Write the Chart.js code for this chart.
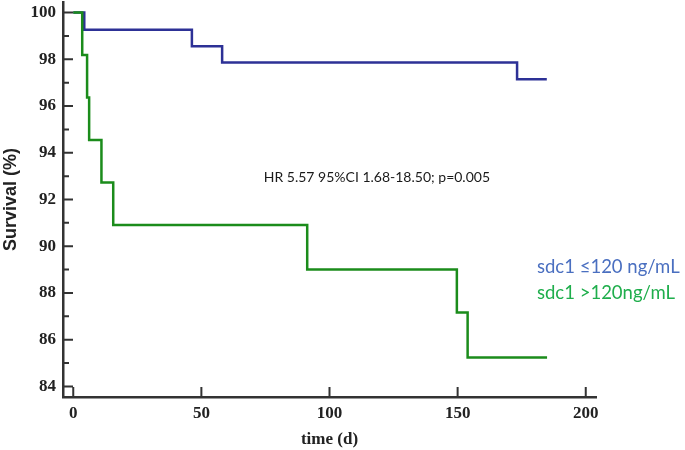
<!DOCTYPE html>
<html>
<head>
<meta charset="utf-8">
<script src="https://cdn.jsdelivr.net/npm/chart.js@4"></script>
<style>
html,body{margin:0;padding:0;background:#fff;}
#wrap{width:685px;height:450px;position:relative;}
</style>
</head>
<body>
<div id="wrap"><canvas id="c" width="685" height="450"></canvas></div>
<script>
// ---- data ----
const lowTimes    = [0, 4.3, 46.3, 58.1, 173.2, 184.8];
const lowSurv     = [100, 99.26, 98.56, 97.86, 97.14, 97.14];
const highTimes   = [0, 3.5, 5.4, 6.2, 11.0, 15.6, 91.3, 149.7, 153.9, 184.9];
const highSurv    = [100, 98.18, 96.36, 94.55, 92.73, 90.91, 89.0, 87.17, 85.24, 85.24];
const xTickLabels = [0, 50, 100, 150, 200];
const yTickLabels = [84, 86, 88, 90, 92, 94, 96, 98, 100];
const yMinorTicks = [85, 87, 89, 91, 93, 95, 97, 99];
const seriesNames = ['sdc1 \u2264120 ng/mL', 'sdc1 >120ng/mL'];
const annotationText = 'HR 5.57 95%CI 1.68-18.50; p=0.005';

const BLUE = '#2d3196';
const GREEN = '#1b8c1b';
const AXIS = '#333333';

const toPts = (t, s) => t.map((x, i) => ({x: x, y: s[i]}));

const inwardTicks = {
  id: 'inwardTicks',
  afterDatasetsDraw(chart) {
    const ctx = chart.ctx;
    const xs = chart.scales.x, ys = chart.scales.y;
    const L = chart.chartArea.left, B = chart.chartArea.bottom;
    ctx.save();
    ctx.strokeStyle = AXIS;
    ctx.lineWidth = 2;
    ctx.beginPath();
    yTickLabels.forEach(v => { const p = ys.getPixelForValue(v); ctx.moveTo(L, p); ctx.lineTo(L + 10, p); });
    yMinorTicks.forEach(v => { const p = ys.getPixelForValue(v); ctx.moveTo(L, p); ctx.lineTo(L + 6, p); });
    xTickLabels.forEach(v => { const p = xs.getPixelForValue(v); ctx.moveTo(p, B); ctx.lineTo(p, B - 10); });
    ctx.stroke();
    ctx.restore();
  }
};

const texts = {
  id: 'texts',
  afterDraw(chart) {
    const ctx = chart.ctx;
    const xs = chart.scales.x, ys = chart.scales.y;
    ctx.save();
    ctx.textBaseline = 'middle';
    ctx.fillStyle = '#1a1a1a';
    ctx.font = '14px Lato, "Open Sans", sans-serif';
    ctx.textAlign = 'center';
    ctx.fillText(annotationText, xs.getPixelForValue(118.5), ys.getPixelForValue(92.93));
    ctx.textAlign = 'left';
    ctx.font = '18.5px Lato, "Open Sans", sans-serif';
    ctx.fillStyle = '#4a6fc0';
    ctx.fillText(seriesNames[0], 537, 267);
    ctx.fillStyle = '#1fae4c';
    ctx.fillText(seriesNames[1], 537, 293);
    ctx.restore();
  }
};

new Chart(document.getElementById('c'), {
  type: 'line',
  data: {
    datasets: [
      {label: seriesNames[1], data: toPts(highTimes, highSurv), borderColor: GREEN, borderWidth: 2.5, stepped: true, pointRadius: 0, fill: false},
      {label: seriesNames[0], data: toPts(lowTimes, lowSurv), borderColor: BLUE, borderWidth: 2.5, stepped: true, pointRadius: 0, fill: false}
    ]
  },
  options: {
    responsive: false,
    animation: false,
    layout: {padding: {top: 2, right: 89, bottom: 0, left: 0}},
    plugins: {legend: {display: false}, tooltip: {enabled: false}},
    scales: {
      x: {
        type: 'linear', min: -4, max: 204,
        grid: {display: false, drawTicks: false},
        border: {display: true, color: AXIS, width: 2.5},
        afterBuildTicks: s => { s.ticks = xTickLabels.map(v => ({value: v})); },
        afterFit: s => { s.height = 53; s.paddingLeft = 0; s.paddingRight = 0; },
        ticks: {padding: 6, color: '#222', font: {family: '"Liberation Serif", "Times New Roman", serif', size: 17, weight: 'bold'}},
        title: {display: true, text: 'time (d)', color: '#222', padding: 0, font: {family: '"Liberation Serif", "Times New Roman", serif', size: 17, weight: 'bold'}}
      },
      y: {
        type: 'linear', min: 83.55, max: 100.45,
        grid: {display: false, drawTicks: false},
        border: {display: true, color: AXIS, width: 2.5},
        afterBuildTicks: s => { s.ticks = yTickLabels.map(v => ({value: v})); },
        afterFit: s => { s.width = 63; s.paddingTop = 0; s.paddingBottom = 0; },
        ticks: {padding: 7, color: '#222', font: {family: '"Liberation Serif", "Times New Roman", serif', size: 17, weight: 'bold'}},
        title: {display: true, text: 'Survival (%)', color: '#222', padding: 0, font: {family: '"Liberation Sans", Arial, sans-serif', size: 18, weight: 'bold'}}
      }
    }
  },
  plugins: [inwardTicks, texts]
});
</script>
</body>
</html>
